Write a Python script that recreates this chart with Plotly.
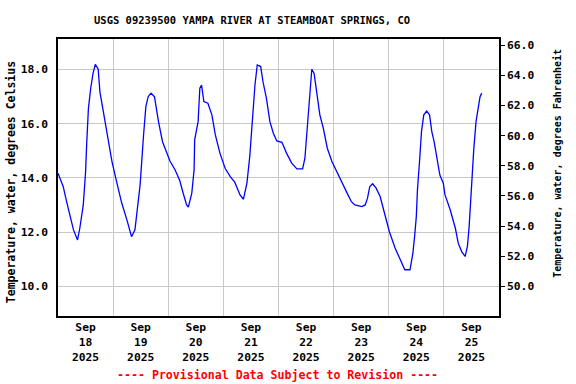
import plotly.graph_objects as go

# Water temperature readings (degrees Celsius), Sep 18 - Sep 25 2025
times = [
    "2025-09-18 00:00", "2025-09-18 02:15", "2025-09-18 03:45", "2025-09-18 05:15", "2025-09-18 06:45",
    "2025-09-18 08:30", "2025-09-18 09:30", "2025-09-18 11:00", "2025-09-18 12:00", "2025-09-18 12:30",
    "2025-09-18 13:15", "2025-09-18 14:15", "2025-09-18 15:15", "2025-09-18 16:15", "2025-09-18 17:30",
    "2025-09-18 18:15", "2025-09-18 20:15", "2025-09-18 22:00", "2025-09-18 23:30",
    "2025-09-19 01:30", "2025-09-19 03:45", "2025-09-19 06:00", "2025-09-19 08:00", "2025-09-19 09:30",
    "2025-09-19 11:00", "2025-09-19 11:45", "2025-09-19 13:15", "2025-09-19 14:15", "2025-09-19 15:15",
    "2025-09-19 16:30", "2025-09-19 18:00", "2025-09-19 19:45", "2025-09-19 21:30", "2025-09-19 23:15",
    "2025-09-20 00:45", "2025-09-20 03:00", "2025-09-20 05:00", "2025-09-20 06:30", "2025-09-20 08:00",
    "2025-09-20 08:45", "2025-09-20 10:15", "2025-09-20 11:15", "2025-09-20 11:30", "2025-09-20 13:00",
    "2025-09-20 13:45", "2025-09-20 14:30", "2025-09-20 15:30", "2025-09-20 17:15", "2025-09-20 19:00",
    "2025-09-20 20:30", "2025-09-20 22:30",
    "2025-09-21 00:45", "2025-09-21 03:00", "2025-09-21 05:00", "2025-09-21 07:15", "2025-09-21 08:45",
    "2025-09-21 10:15", "2025-09-21 11:30", "2025-09-21 12:45", "2025-09-21 13:45", "2025-09-21 14:45",
    "2025-09-21 16:15", "2025-09-21 17:15", "2025-09-21 18:45", "2025-09-21 20:15", "2025-09-21 21:45",
    "2025-09-21 23:15",
    "2025-09-22 01:30", "2025-09-22 03:30", "2025-09-22 05:45", "2025-09-22 08:00", "2025-09-22 10:30",
    "2025-09-22 11:30", "2025-09-22 12:45", "2025-09-22 13:45", "2025-09-22 14:30", "2025-09-22 15:30",
    "2025-09-22 16:45", "2025-09-22 18:00", "2025-09-22 19:30", "2025-09-22 21:15", "2025-09-22 23:15",
    "2025-09-23 01:15", "2025-09-23 02:45", "2025-09-23 04:15", "2025-09-23 06:15", "2025-09-23 07:45",
    "2025-09-23 09:15", "2025-09-23 12:15", "2025-09-23 13:45", "2025-09-23 14:45", "2025-09-23 15:45",
    "2025-09-23 17:00", "2025-09-23 18:30", "2025-09-23 20:15", "2025-09-23 22:15",
    "2025-09-24 00:15", "2025-09-24 02:45", "2025-09-24 05:00", "2025-09-24 07:00", "2025-09-24 09:15",
    "2025-09-24 10:30", "2025-09-24 11:15", "2025-09-24 12:00", "2025-09-24 12:30", "2025-09-24 13:15",
    "2025-09-24 13:30", "2025-09-24 14:15", "2025-09-24 15:15", "2025-09-24 16:30", "2025-09-24 17:45",
    "2025-09-24 18:45", "2025-09-24 19:45", "2025-09-24 21:15", "2025-09-24 22:15", "2025-09-24 23:45",
    "2025-09-25 00:30", "2025-09-25 02:45", "2025-09-25 05:00", "2025-09-25 06:15", "2025-09-25 07:45",
    "2025-09-25 09:15", "2025-09-25 10:15", "2025-09-25 11:00", "2025-09-25 11:45", "2025-09-25 12:30",
    "2025-09-25 13:00", "2025-09-25 14:00", "2025-09-25 15:00", "2025-09-25 15:45", "2025-09-25 16:30",
]
temp_c = [
    14.17, 13.68, 13.12, 12.57, 12.08,
    11.71, 12.14, 13.0, 14.2, 15.27,
    16.56, 17.30, 17.85, 18.18, 18.0,
    17.17, 16.25, 15.40, 14.60,
    13.86, 13.07, 12.45, 11.83, 12.08,
    13.19, 13.74, 15.58, 16.62, 16.99,
    17.12, 16.99, 16.07, 15.33, 14.91,
    14.62, 14.29, 13.90, 13.43, 13.0,
    12.92, 13.43, 14.29, 15.40, 16.07,
    17.30, 17.42, 16.81, 16.75, 16.32,
    15.58, 14.91,
    14.35, 14.04, 13.83, 13.37, 13.21,
    13.80, 14.80, 16.44, 17.42, 18.16,
    18.10, 17.54, 16.93, 16.07, 15.64,
    15.36,
    15.31, 14.91, 14.54, 14.33, 14.33,
    14.72, 16.19, 17.42, 18.0, 17.85,
    17.05, 16.32, 15.83, 15.09, 14.60,
    14.23, 13.98, 13.68, 13.37, 13.12,
    13.0, 12.94, 13.0, 13.25, 13.68,
    13.78, 13.62, 13.31, 12.70,
    12.02, 11.41, 10.98, 10.61, 10.61,
    11.22, 11.83, 12.57, 13.56, 14.29,
    14.72, 15.70, 16.32, 16.46, 16.32,
    15.70, 15.33, 14.60, 14.10, 13.80,
    13.37, 12.82, 12.14, 11.59, 11.28,
    11.10, 11.47, 12.20, 13.31, 14.29,
    15.03, 16.07, 16.69, 16.99, 17.12,
]

x_range = ["2025-09-18 00:00", "2025-09-26 00:00"]
c_range = [8.906, 19.116]
f_range = [c * 1.8 + 32 for c in c_range]
temp_f = [c * 1.8 + 32 for c in temp_c]

title_text = "USGS 09239500 YAMPA RIVER AT STEAMBOAT SPRINGS, CO"
left_title = "Temperature, water, degrees Celsius"
right_title = "Temperature, water, degrees Fahrenheit"
footer = "---- Provisional Data Subject to Revision ----"

FONT = "DejaVu Sans Mono"

fig = go.Figure()
fig.add_trace(go.Scatter(x=times, y=temp_c, mode="lines",
                         line=dict(color="#0000FF", width=1.3), hoverinfo="skip",
                         showlegend=False))
fig.add_trace(go.Scatter(x=times, y=temp_f, mode="lines", yaxis="y2",
                         line=dict(color="rgba(0,0,0,0)", width=0), hoverinfo="skip",
                         showlegend=False))

fig.update_layout(
    width=576, height=384,
    margin=dict(l=58, r=77, t=39, b=68),
    paper_bgcolor="white", plot_bgcolor="white",
    font=dict(family=FONT, size=11, color="black"),
    xaxis=dict(
        type="date", range=x_range, dtick=86400000, tick0="2025-09-18",
        ticklabelmode="period", tickformat="%b<br>%d<br>%Y",
        showgrid=True, gridcolor="#c8c8c8", gridwidth=1,
        showline=True, linecolor="black", linewidth=1.5, mirror=True,
        ticks="", tickfont=dict(family=FONT, size=11.3, weight="bold"),
        zeroline=False, automargin=False,
    ),
    yaxis=dict(
        range=c_range, tick0=10, dtick=2, tickformat=".1f",
        showgrid=True, gridcolor="#c8c8c8", gridwidth=1,
        showline=True, linecolor="black", linewidth=1.5, mirror=True,
        ticks="", ticklabelstandoff=6,
        tickfont=dict(family=FONT, size=11.3, weight="bold"), zeroline=False,
        automargin=False,
    ),
    yaxis2=dict(
        range=f_range, tick0=50, dtick=2, tickformat=".1f",
        overlaying="y", side="right", showgrid=False,
        showline=True, linecolor="black", linewidth=1.5,
        ticks="outside", ticklen=4, tickcolor="black",
        tickfont=dict(family=FONT, size=11.3, weight="bold"), zeroline=False,
        automargin=False,
    ),
    annotations=[
        dict(text=title_text, xref="paper", yref="paper", x=0.44, y=1.0686,
             xanchor="center", yanchor="middle", showarrow=False,
             font=dict(family=FONT, size=10.5, weight="bold")),
        dict(text=left_title, xref="paper", yref="paper", x=-0.105, y=0.482,
             xanchor="center", yanchor="middle", textangle=-90, showarrow=False,
             font=dict(family=FONT, size=11.5, weight="bold")),
        dict(text=right_title, xref="paper", yref="paper", x=1.1308, y=0.552,
             xanchor="center", yanchor="middle", textangle=-90, showarrow=False,
             font=dict(family=FONT, size=10, weight="bold")),
        dict(text=footer, xref="paper", yref="paper", x=0.497, y=-0.213,
             xanchor="center", yanchor="middle", showarrow=False,
             font=dict(family=FONT, size=11.6, weight="bold", color="#FF0000")),
    ],
)

fig.write_html(
    "out.html",
    config={"displayModeBar": False},
    post_script="document.body.style.margin='0';document.body.style.padding='0';"
                "document.documentElement.style.overflow='hidden';",
)
